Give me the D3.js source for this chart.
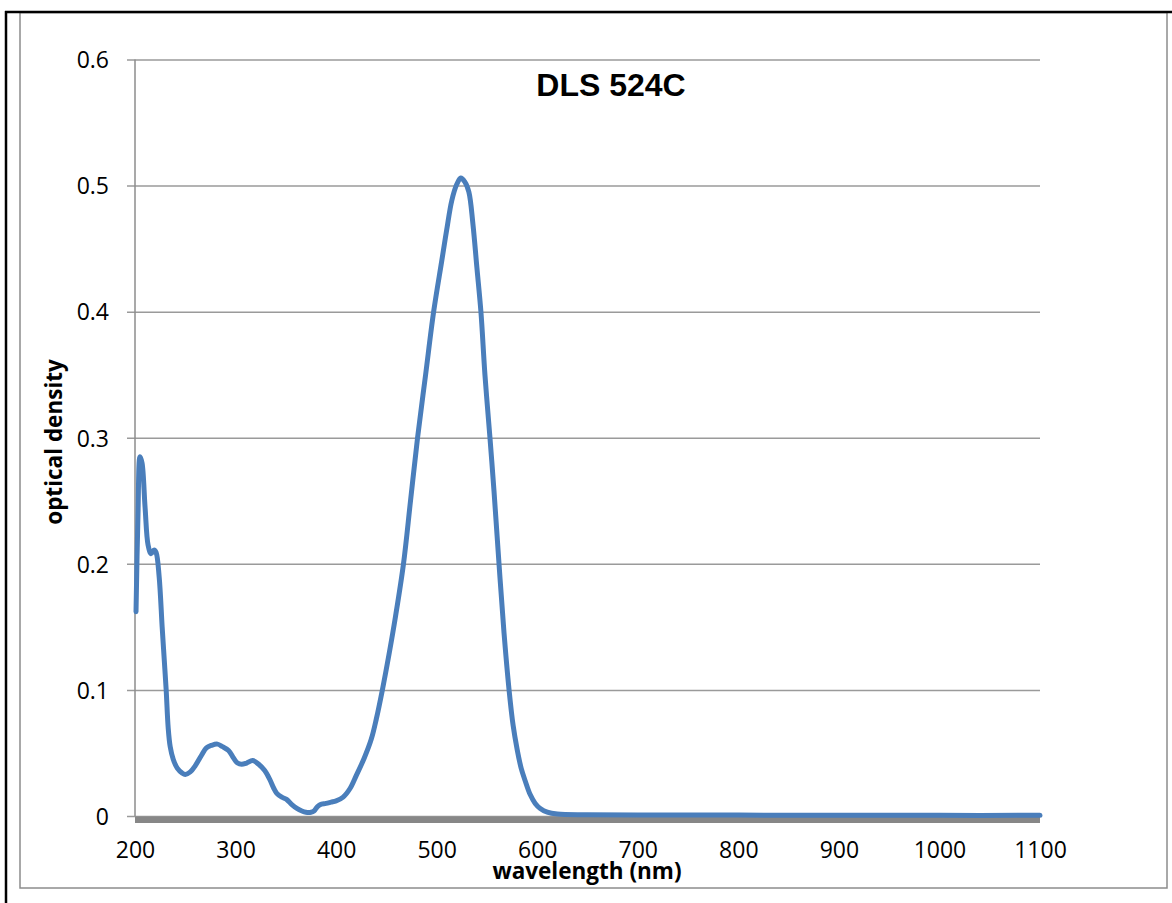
<!DOCTYPE html>
<html>
<head>
<meta charset="utf-8">
<script src="https://cdnjs.cloudflare.com/ajax/libs/d3/7.8.5/d3.min.js"></script>
<style>
    body { margin: 0; background: white; }
    svg { display: block; }
    .tick-label { font-family: 'Open Sans', sans-serif; font-size: 23px; fill: #000; }
    .axis-title { font-family: 'Open Sans', sans-serif; font-size: 22.5px; font-weight: bold; fill: #000; }
    .chart-title { font-family: 'Liberation Sans', Arial, sans-serif; font-size: 32px; font-weight: bold; fill: #000; }
</style>
</head>
<body>
<div id="chart"></div>
<script>
// spectrum
const wavelength = [
    201, 203, 205, 207, 210, 213, 216, 219, 221, 224, 227, 229, 231, 233, 235, 238, 242, 247, 250,
    255, 260, 266, 271, 276, 282, 287, 293, 298, 302, 306, 311, 317, 323, 329, 334, 338, 341, 346,
    351, 356, 361, 366, 370, 375, 378, 381, 384, 390, 395, 400, 407, 414, 420, 428, 435, 440, 446,
    453, 459, 467, 474, 481, 489, 497, 505, 510, 515, 520, 524, 528, 532, 536, 540, 544, 548, 553,
    557, 562, 567, 572, 576, 580, 584, 588, 593, 598, 603, 610, 620, 650, 700, 800, 900, 1000, 1100
];
const opticalDensity = [
    0.162, 0.24, 0.285, 0.28, 0.245, 0.215, 0.208, 0.211, 0.209, 0.19, 0.15, 0.125, 0.1, 0.07, 0.055, 0.045, 0.038, 0.034, 0.033,
    0.035, 0.04, 0.048, 0.054, 0.056, 0.057, 0.055, 0.052, 0.046, 0.042, 0.041, 0.042, 0.044, 0.041, 0.036, 0.029, 0.022, 0.018, 0.015,
    0.013, 0.009, 0.006, 0.004, 0.003, 0.003, 0.004, 0.007, 0.009, 0.01, 0.011, 0.012, 0.015, 0.022, 0.032, 0.046, 0.061, 0.077, 0.1,
    0.13, 0.158, 0.2, 0.25, 0.3, 0.35, 0.4, 0.44, 0.465, 0.488, 0.501, 0.506, 0.503, 0.495, 0.47, 0.435, 0.4, 0.35, 0.3,
    0.258, 0.2, 0.145, 0.1, 0.072, 0.053, 0.038, 0.028, 0.017, 0.01, 0.006, 0.003, 0.0015, 0.001, 0.0008, 0.0007, 0.0006, 0.0005, 0.0005
];
const xTicks = [200, 300, 400, 500, 600, 700, 800, 900, 1000, 1100];
const yTicks = [0, 0.1, 0.2, 0.3, 0.4, 0.5, 0.6];

const width = 1172;
const height = 903;
const plot = { left: 135, right: 1040, top: 59.5, bottom: 816 };

const svg = d3.select('#chart')
    .append('svg')
    .attr('width', width)
    .attr('height', height);

const x = d3.scaleLinear().domain([200, 1100]).range([plot.left, plot.right]);
const y = d3.scaleLinear().domain([0, 0.6]).range([plot.bottom, plot.top]);

// chart frame
svg.append('rect')
    .attr('x', 20).attr('y', 12.5)
    .attr('width', 1147).attr('height', 875.5)
    .style('fill', 'none')
    .style('stroke', '#8c8c8c')
    .style('stroke-width', 1.5);

// black page edges
svg.append('line')
    .attr('x1', 6).attr('x2', 6).attr('y1', 11).attr('y2', height)
    .style('stroke', 'black').style('stroke-width', 2.5);
svg.append('line')
    .attr('x1', 5).attr('x2', width).attr('y1', 12).attr('y2', 12)
    .style('stroke', 'black').style('stroke-width', 2.5);

// gridlines + y axis
const yAxis = d3.axisLeft(y)
    .tickValues(yTicks)
    .tickSize(-(plot.right - plot.left))
    .tickPadding(26)
    .tickFormat(d => d === 0 ? '0' : d3.format('.1f')(d));

const yAxisG = svg.append('g')
    .attr('transform', `translate(${plot.left},0)`)
    .call(yAxis);
yAxisG.select('.domain').remove();
yAxisG.selectAll('.tick line')
    .attr('x1', -8)
    .style('stroke', '#9a9a9a')
    .style('stroke-width', 1.5);
yAxisG.selectAll('.tick text')
    .attr('class', 'tick-label')
    .attr('dy', '0.36em');

svg.append('line')
    .attr('x1', plot.left).attr('x2', plot.left)
    .attr('y1', plot.top).attr('y2', plot.bottom)
    .style('stroke', '#8c8c8c')
    .style('stroke-width', 1.5);

// x axis: thick grey bar
svg.append('rect')
    .attr('x', plot.left)
    .attr('y', plot.bottom + 0.5)
    .attr('width', plot.right - plot.left)
    .attr('height', 6.5)
    .style('fill', '#878787');

const xAxis = d3.axisBottom(x)
    .tickValues(xTicks)
    .tickSize(0)
    .tickPadding(0)
    .tickFormat(d3.format('d'));
const xAxisG = svg.append('g')
    .attr('transform', `translate(0,${plot.bottom})`)
    .call(xAxis);
xAxisG.select('.domain').remove();
xAxisG.selectAll('.tick text')
    .attr('class', 'tick-label')
    .attr('dy', null)
    .attr('y', 42);

// spectrum line
const line = d3.line()
    .x((d, i) => x(wavelength[i]))
    .y(d => y(d))
    .curve(d3.curveCatmullRom.alpha(0.5));

svg.append('path')
    .datum(opticalDensity)
    .attr('d', line)
    .style('fill', 'none')
    .style('stroke', '#4a7ebb')
    .style('stroke-width', 5)
    .style('stroke-linejoin', 'round')
    .style('stroke-linecap', 'round');

// titles
svg.append('text')
    .attr('class', 'chart-title')
    .attr('x', 611)
    .attr('y', 96)
    .attr('text-anchor', 'middle')
    .text('DLS 524C');

svg.append('text')
    .attr('class', 'axis-title')
    .attr('x', 587)
    .attr('y', 879)
    .attr('text-anchor', 'middle')
    .text('wavelength (nm)');

svg.append('text')
    .attr('class', 'axis-title')
    .attr('transform', 'translate(62,442) rotate(-90)')
    .attr('text-anchor', 'middle')
    .text('optical density');
</script>
</body>
</html>
